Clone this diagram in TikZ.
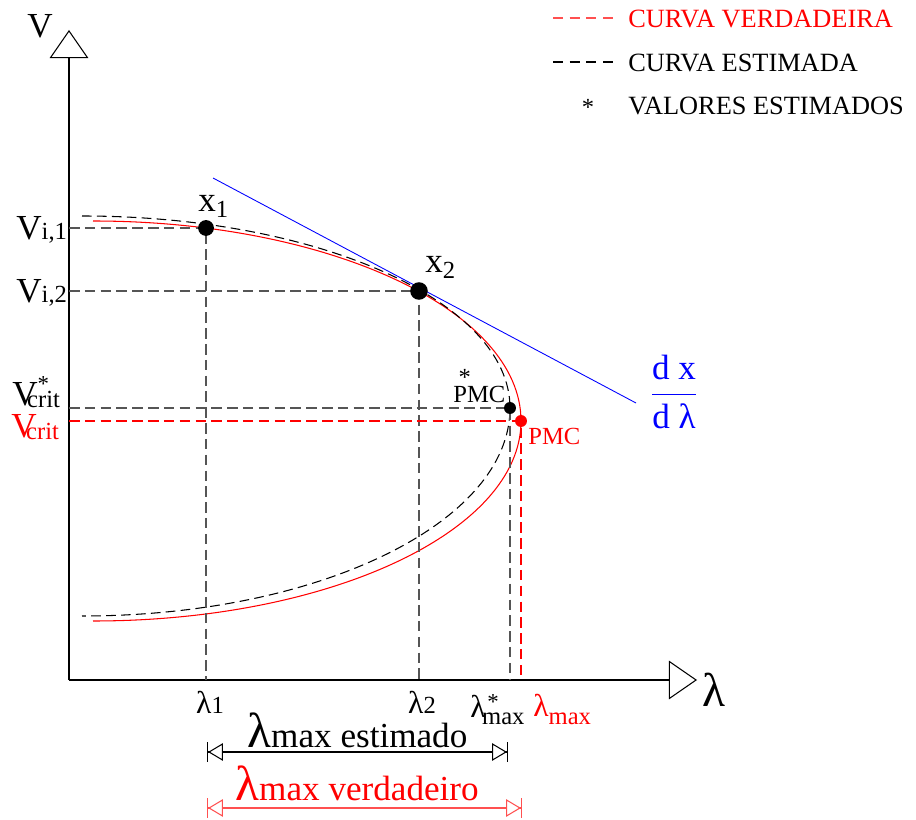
\documentclass[tikz,border=0pt]{standalone}
\usepackage{fontspec}
\setmainfont{Liberation Serif}
\usetikzlibrary{arrows.meta,positioning}

\definecolor{cTrue}{RGB}{255,0,0}
\definecolor{cDim}{RGB}{255,80,80}
\definecolor{cGuide}{RGB}{85,85,85}
\definecolor{cTan}{RGB}{0,0,255}

\newcommand{\fsz}[1]{\fontsize{#1}{#1}\selectfont}
% base, then a smaller lowered index
\newcommand{\sublbl}[4][1pt]{#2\kern#4\raisebox{-#1}{\fsz{14}#3}}
% base, index, and an asterisk over the index
\newcommand{\starlbl}[5]{#1\kern#3\raisebox{-#4}{\fsz{14}\rlap{\kern#5\raisebox{9pt}{\fsz{13}*}}#2}}

\begin{document}
\begin{tikzpicture}[
  x=0.02cm, y=-0.02cm,
  font=\fsz{20},
  axis/.style   = {line width=0.7pt,
                   -{Triangle[length=16pt, width=22pt, fill=white, line width=0.6pt]}},
  truecurve/.style = {cTrue, line width=0.6pt},
  estcurve/.style  = {black, line width=0.6pt, dash pattern=on 5.5pt off 3pt},
  guide/.style  = {cGuide, line width=0.7pt, dash pattern=on 6pt off 3pt},
  guideR/.style = {cTrue, line width=0.6pt, dash pattern=on 6pt off 3pt},
  tangent/.style = {cTan, line width=0.5pt},
  dot/.style    = {circle, fill=black, inner sep=0pt},
  lbl/.style    = {anchor=base west, inner sep=0pt},
  legdash/.style = {line width=0.6pt, dash pattern=on 5.7pt off 3.8pt},
  dimline/.style = {line width=0.6pt,
                    {Bar[width=11pt, sep=0pt]Triangle[length=8.5pt, width=10pt, fill=white, sep=0pt]}-{Triangle[length=8.5pt, width=10pt, fill=white, sep=0pt]Bar[width=11pt, sep=0pt]}}
]
\useasboundingbox (0,0) rectangle (916,820);

% ------------------------------------------------------------------ eixos --
\coordinate (o)    at (69,680);
\coordinate (ytop) at (69,30);
\coordinate (xend) at (697,680);
\draw[axis] (o) -- (ytop);
\draw[axis] (o) -- (xend);
\node[anchor=base] (vaxis) at (40,38) {V};
\node[anchor=base] (laxis) at (714,706) {\fsz{27}λ};

% ---------------------------------------------------------------- curvas --
\coordinate (ttop) at (93,221);
\draw[truecurve] (ttop) arc[start angle=-90, end angle=90, x radius=428, y radius=200];
\coordinate (etop) at (82,216);
\draw[estcurve] (etop) arc[start angle=-90, end angle=0, x radius=428, y radius=192]
                       arc[start angle=0, end angle=90, x radius=428, y radius=208];

% tangente em x2
\coordinate (tanA) at (213,178);
\coordinate (tanB) at (636,403);
\draw[tangent] (tanA) -- (tanB);

% linhas de chamada (antes dos pontos, que ficam por cima)
\coordinate (p1) at (206,228);
\coordinate (p2) at (419,291);
\coordinate (pE) at (510,408);
\coordinate (pT) at (521,421);
\draw[guide]  (o |- p1) -- (p1) -- (p1 |- o);
\draw[guide]  (o |- p2) -- (p2) -- (p2 |- o);
\draw[guide]  (o |- pE) -- (pE) -- (pE |- o);
\draw[guideR] (o |- pT) -- (pT) -- (pT |- o);

% ---------------------------------------------------------------- pontos --
\node[dot, minimum size=9pt]   (x1)   at (p1) {};
\node[dot, minimum size=10pt]  (x2)   at (p2) {};
\node[dot, minimum size=6.8pt] (pmcE) at (pE) {};
\node[dot, fill=cTrue, minimum size=6.8pt] (pmcT) at (pT) {};

% --------------------------------------------------------------- rotulos --
\node[lbl] (x1lab) at (198,212) {\sublbl[3pt]{x}{1}{0pt}};
\node[lbl] (x2lab) at (425,273) {\sublbl[3pt]{x}{2}{0pt}};
\node[lbl] (vi1)   at (16,240) {\sublbl[0pt]{V}{i,1}{0pt}};
\node[lbl] (vi2)   at (16,303) {\sublbl[0pt]{V}{i,2}{0pt}};
\node[lbl] (vcE)   at (12,406) {\starlbl{V}{crit}{-6pt}{1pt}{6pt}};
\node[lbl, text=cTrue] (vcT) at (11,438) {\sublbl[1pt]{V}{crit}{-6pt}};
\node[lbl, font=\fsz{14}] (pmcElab) at (453,403) {\rlap{\kern3pt\raisebox{10pt}{*}}PMC};
\node[lbl, font=\fsz{14}, text=cTrue] (pmcTlab) at (528,445) {PMC};

\node[anchor=base] (l1) at (210,713) {\sublbl[0pt]{\fsz{18}λ}{1}{0pt}};
\node[anchor=base] (l2) at (422,713) {\sublbl[0pt]{\fsz{18}λ}{2}{0pt}};
\node[lbl] (lmE) at (470,717) {\starlbl{\fsz{18}λ}{max}{-2pt}{4.5pt}{3pt}};
\node[lbl, text=cTrue] (lmT) at (533,716) {\sublbl[5pt]{\fsz{18}λ}{max}{0pt}};

\node[text=cTan] (dxdl) at (674,392) {$\displaystyle\frac{\mbox{\fsz{20}d x}}{\mbox{\fsz{20}d λ}}$};

% ----------------------------------------------------------------- cotas --
\coordinate (dEa) at (207,752);
\coordinate (dEb) at (508,752);
\draw[dimline] (dEa) -- (dEb);
\node[lbl] (dElab) at (247,747) {{\fsz{28}λ}max estimado};
\coordinate (dTa) at (207,808);
\coordinate (dTb) at (522,808);
\draw[dimline, cDim] (dTa) -- (dTb);
\node[lbl, text=cTrue] (dTlab) at (235,800) {{\fsz{28}λ}max verdadeiro};

% ---------------------------------------------------------------- legenda --
\coordinate (lg1a) at (553,18);  \coordinate (lg1b) at (613,18);
\coordinate (lg2a) at (553,62);  \coordinate (lg2b) at (613,62);
\draw[legdash, cDim] (lg1a) -- (lg1b);
\draw[legdash]       (lg2a) -- (lg2b);
\node[lbl, font=\fsz{15}, text=cTrue] (lg1) at (628,28) {CURVA VERDADEIRA};
\node[lbl, font=\fsz{15}] (lg2) at (628,72)  {CURVA ESTIMADA};
\node[lbl, font=\fsz{15}] (lg3) at (628,115) {VALORES ESTIMADOS};
\node[anchor=base, font=\fsz{14}] (lgstar) at (588,116) {*};

\end{tikzpicture}
\end{document}
